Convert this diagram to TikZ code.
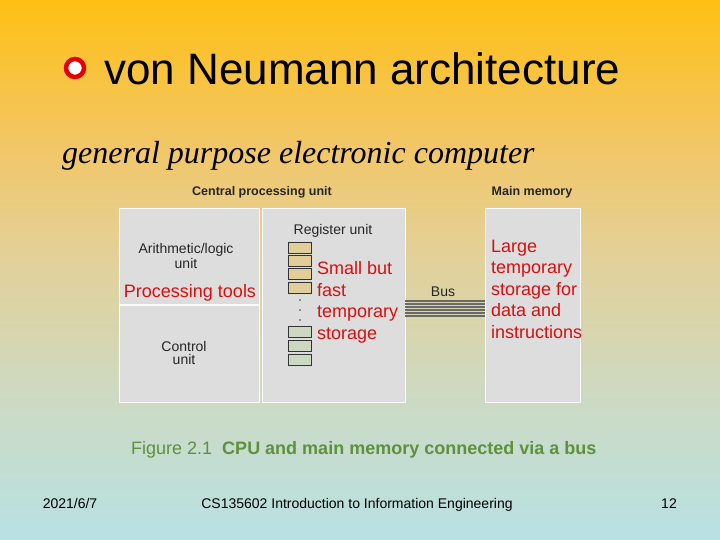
\documentclass[tikz,border=0pt]{standalone}
\usepackage{fontspec}
\setmainfont{Liberation Sans}
\newfontfamily\serifit{Liberation Serif}
\definecolor{bgtop}{RGB}{254,192,20}
\definecolor{bgm1}{RGB}{243,198,100}
\definecolor{bgm2}{RGB}{228,208,150}
\definecolor{bgm3}{RGB}{205,218,195}
\definecolor{bgbot}{RGB}{184,225,228}
\definecolor{boxgray}{RGB}{221,221,221}
\definecolor{redtxt}{RGB}{215,15,15}
\definecolor{captgreen}{RGB}{95,145,60}
\definecolor{regtan}{RGB}{226,206,152}
\definecolor{reggreen}{RGB}{205,216,192}
\definecolor{busgray}{RGB}{105,105,105}
\pgfdeclareverticalshading{bgshade}{100bp}{color(0bp)=(bgbot); color(25bp)=(bgbot); color(38bp)=(bgm3); color(52bp)=(bgm2); color(62bp)=(bgm1); color(75bp)=(bgtop); color(100bp)=(bgtop)}
\tikzset{
  unitbox/.style={fill=boxgray, draw=white!85!boxgray, line width=0.8pt},
  smalllbl/.style={font=\fontsize{14}{13}\selectfont, text=black!85, align=center},
  headlbl/.style={font=\bfseries\fontsize{12.5}{14}\selectfont, text=black!85, anchor=base},
  redlbl/.style={font=\fontsize{18}{21.5}\selectfont, text=redtxt, align=left, inner sep=0pt},
  regbox/.style={draw=black!80, line width=0.9pt},
  busline/.style={draw=busgray, line width=1.2pt},
  foot/.style={font=\fontsize{14}{16}\selectfont, anchor=base, inner sep=0pt}
}
\begin{document}
\begin{tikzpicture}[x=1pt,y=-1pt]
\useasboundingbox (0,0) rectangle (720,540);
\shade[shading=bgshade] (0,0) rectangle (720,540);
% title
\node[circle, draw=red!90!black, line width=4.5pt, fill=white, minimum size=18pt, inner sep=0pt] (bullet) at (75,68) {};
\node[anchor=base west, inner sep=0pt, font=\fontsize{44}{50}\selectfont] (title) at (104,85) {von Neumann architecture};
\node[anchor=base west, inner sep=0pt, font=\serifit\itshape\fontsize{32}{36}\selectfont] (sub) at (62,164) {general purpose electronic computer};
% headers
\node[headlbl] (cpuhead) at (262,196) {Central processing unit};
\node[headlbl] (memhead) at (532,196) {Main memory};
% boxes
\path[unitbox] (119,208) rectangle (259,304);
\path[unitbox] (119,305) rectangle (259,402);
\path[unitbox] (262,208) rectangle (405,402);
\path[unitbox] (485,208) rectangle (580,402);
\node[smalllbl, anchor=base] (alu) at (186,268) {Arithmetic/logic\\unit};
\node[redlbl, anchor=base] (proc) at (190,297) {Processing tools};
\node[smalllbl, anchor=base] (cu) at (184,364) {Control\\unit};
\node[smalllbl, anchor=base] (reg) at (333,235) {Register unit};
% registers
\foreach \yy in {242,255,268,282} \path[regbox, fill=regtan] (288,\yy) rectangle (311,\yy+11);
\foreach \yy in {326,340,354} \path[regbox, fill=reggreen] (288,\yy) rectangle (311,\yy+11);
\foreach \yy in {300,310,320} \fill[black!75] (300,\yy) circle (0.9pt);
\node[redlbl, anchor=base west] (small) at (317,339) {Small but\\fast\\temporary\\storage};
% bus
\foreach \yy in {301,304,307,310,313,316} \path[busline] (405,\yy) -- (485,\yy);
\node[smalllbl, anchor=base] (bus) at (443,296) {Bus};
\node[redlbl, anchor=base west] (large) at (491,338) {Large\\temporary\\storage for\\data and\\instructions};
% caption
\node[anchor=base west, inner sep=0pt, text=captgreen, font=\fontsize{18}{21}\selectfont] (cap) at (131,454) {Figure 2.1\ \ \textbf{CPU and main memory connected via a bus}};
% footer
\node[foot] (date) at (70,508) {2021/6/7};
\node[foot] (course) at (357,508) {CS135602 Introduction to Information Engineering};
\node[foot] (page) at (669,508) {12};
\end{tikzpicture}
\end{document}
